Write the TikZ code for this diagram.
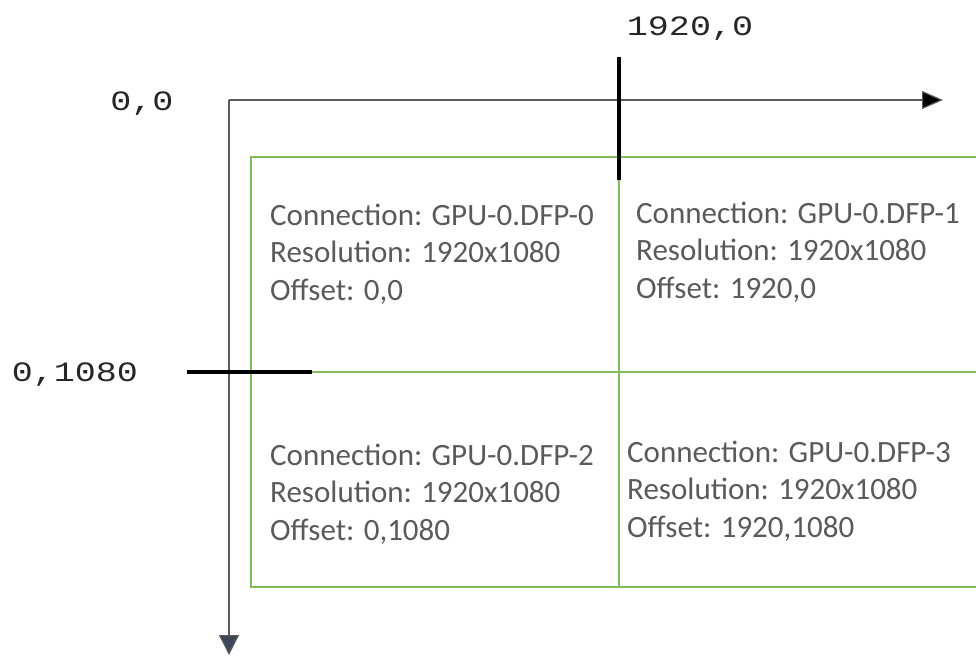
\documentclass[tikz,border=0pt]{standalone}
\usepackage{fontspec}
\usepackage{tikz}
\usetikzlibrary{arrows.meta}
\setmainfont{Carlito}
\newfontfamily\lblmono{Liberation Mono}
\newcommand{\widelbl}[1]{\scalebox{1.25}[1]{#1}}
\definecolor{panelgreen}{RGB}{128,188,88}
\definecolor{axisgray}{RGB}{90,90,96}
\definecolor{textgray}{RGB}{90,90,90}
\definecolor{tipslate}{RGB}{60,72,88}

\begin{document}
\begin{tikzpicture}[x=1pt,y=-1pt,
    cell/.style={anchor=base west,align=left,inner sep=0pt,text=textgray,
      font=\fontsize{31}{37.5}\selectfont},
    coord/.style={inner sep=0pt,anchor=base,text=black!85,
      font=\lblmono\fontsize{28}{28}\selectfont},
    axis/.style={draw=axisgray,line width=1.2pt},
    tick/.style={draw=black,line width=4pt}]
  \useasboundingbox (0,0) rectangle (976,656);
  % screen origin and axes
  \coordinate (o) at (229,100);
  \coordinate (xend) at (943,100);
  \coordinate (yend) at (229,655);
  \path[axis] (o) edge[-{Triangle[length=21pt,width=18pt,fill=black]}] (xend)
    (o) edge[-{Triangle[length=20pt,width=20pt,fill=tipslate]}] (yend);
  % the four displays
  \coordinate (tl) at (251,157);
  \coordinate (br) at (990,587);
  \coordinate (mx) at (619,157);
  \coordinate (mxb) at (619,587);
  \coordinate (my) at (251,372);
  \coordinate (myr) at (990,372);
  \draw[panelgreen,line width=1.2pt] (tl) rectangle (br) (mx) -- (mxb) (my) -- (myr);
  % offset ticks
  \coordinate (tx1) at (619,57);
  \coordinate (tx2) at (619,180);
  \coordinate (ty1) at (187,372);
  \coordinate (ty2) at (312,372);
  \path[tick] (tx1) edge (tx2) (ty1) edge (ty2);
  \node[coord] (lx) at (690,35) {\widelbl{1920,0}};
  \node[coord] (lo) at (142,110) {\widelbl{0,0}};
  \node[coord] (ly) at (75,381) {\widelbl{0,1080}};
  % display labels (base = last line)
  \node[cell] (d0) at (270,300) {Connection: GPU-0.DFP-0\\Resolution: 1920x1080\\Offset: 0,0};
  \node[cell] (d1) at (636,298) {Connection: GPU-0.DFP-1\\Resolution: 1920x1080\\Offset: 1920,0};
  \node[cell] (d2) at (270,540) {Connection: GPU-0.DFP-2\\Resolution: 1920x1080\\Offset: 0,1080};
  \node[cell] (d3) at (627,537) {Connection: GPU-0.DFP-3\\Resolution: 1920x1080\\Offset: 1920,1080};
\end{tikzpicture}
\end{document}
